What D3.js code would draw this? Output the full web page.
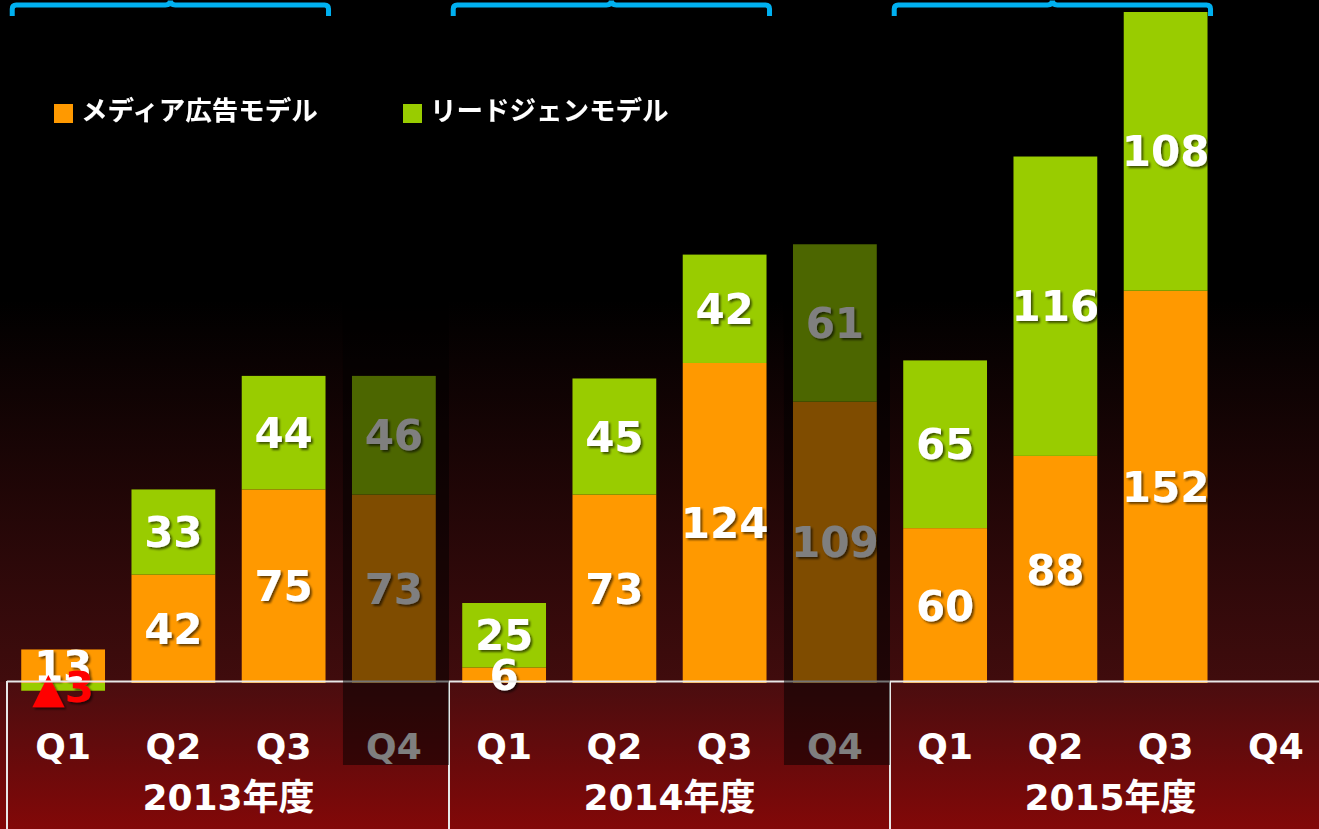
<!DOCTYPE html>
<html>
<head>
<meta charset="utf-8">
<script src="https://cdn.jsdelivr.net/npm/d3@7"></script>
<style>
  html, body { margin: 0; padding: 0; background: #000; }
  svg { display: block; }
</style>
</head>
<body>
<svg id="chart" width="1319" height="829"></svg>
<script>
// ---- data ----
const categories = ["2013Q1","2013Q2","2013Q3","2013Q4","2014Q1","2014Q2","2014Q3","2014Q4","2015Q1","2015Q2","2015Q3","2015Q4"];
const quarterLabels = ["Q1","Q2","Q3","Q4","Q1","Q2","Q3","Q4","Q1","Q2","Q3","Q4"];
const years = ["2013年度","2014年度","2015年度"];
const seriesNames = ["メディア広告モデル","リードジェンモデル"];
const mediaValues = [13, 42, 75, 73, 6, 73, 124, 109, 60, 88, 152, null];
const leadgenValues = [-3, 33, 44, 46, 25, 45, 42, 61, 65, 116, 108, null];
const dimmed = ["2013Q4","2014Q4"];
const seriesColors = ["#ff9900","#99cc00"];

// ---- setup ----
const W = 1319, H = 829;
const svg = d3.select("#chart");
const defs = svg.append("defs");

const x = d3.scaleBand().domain(categories).range([8, 1331]).paddingInner(0.24).paddingOuter(0.12);
const y = d3.scaleLinear().domain([0, 260]).range([683, 12]);

// background gradients
const g1 = defs.append("linearGradient").attr("id","bgTop").attr("x1",0).attr("y1",0).attr("x2",0).attr("y2",1);
g1.append("stop").attr("offset","0%").attr("stop-color","#000");
g1.append("stop").attr("offset","44%").attr("stop-color","#000");
g1.append("stop").attr("offset","100%").attr("stop-color","#400c0d");
const g2 = defs.append("linearGradient").attr("id","bgBottom").attr("x1",0).attr("y1",0).attr("x2",0).attr("y2",1);
g2.append("stop").attr("offset","0%").attr("stop-color","#4a0d0f");
g2.append("stop").attr("offset","100%").attr("stop-color","#820808");

const shadow = defs.append("filter").attr("id","shadow").attr("x","-20%").attr("y","-20%").attr("width","150%").attr("height","150%");
shadow.append("feDropShadow").attr("dx",2).attr("dy",2).attr("stdDeviation",1.2).attr("flood-color","#000").attr("flood-opacity",0.6);

svg.append("rect").attr("x",0).attr("y",0).attr("width",W).attr("height",682).attr("fill","url(#bgTop)");
svg.append("rect").attr("x",0).attr("y",682).attr("width",W).attr("height",H-682).attr("fill","url(#bgBottom)");

// ---- stacked bars ----
const rows = categories.map((c,i) => ({cat:c, media: mediaValues[i], leadgen: leadgenValues[i]})).filter(d => d.media !== null);
const stack = d3.stack().keys(["media","leadgen"]).offset(d3.stackOffsetDiverging);
const stacked = stack(rows);

const barG = svg.append("g");
stacked.forEach((layer, li) => {
  barG.selectAll(null).data(layer).join("rect")
    .attr("x", d => x(d.data.cat))
    .attr("width", x.bandwidth())
    .attr("y", d => y(Math.max(d[0], d[1])))
    .attr("height", d => Math.abs(y(d[0]) - y(d[1])))
    .attr("fill", seriesColors[li]);
});

// value labels
const labelG = svg.append("g").attr("font-family","'DejaVu Sans','Noto Sans CJK JP',sans-serif").attr("font-weight","bold").attr("font-size",42).attr("text-anchor","middle").attr("filter","url(#shadow)");
stacked.forEach((layer, li) => {
  labelG.selectAll(null).data(layer).join("text")
    .attr("x", d => x(d.data.cat) + x.bandwidth()/2)
    .attr("y", d => (y(d[0]) + y(d[1]))/2)
    .attr("dy","0.36em")
    .attr("fill", d => d.data[layer.key] < 0 ? "#ff0000" : "#fff")
    .text(d => d.data[layer.key] < 0 ? "▲" + Math.abs(d.data[layer.key]) : d.data[layer.key]);
});

// ---- table below ----
const tableG = svg.append("g");
tableG.append("line").attr("x1",7).attr("x2",W).attr("y1",681.5).attr("y2",681.5).attr("stroke","#e8e8e8").attr("stroke-width",2);
[0,4,8].forEach(i => {
  const xx = i === 0 ? 7 : x(categories[i]) - x.step()*x.paddingInner()/2;
  tableG.append("line").attr("x1",xx).attr("x2",xx).attr("y1",681).attr("y2",H).attr("stroke","#e8e8e8").attr("stroke-width",2);
});

const axis = d3.axisBottom(x).tickSize(0).tickPadding(0).tickFormat((d,i) => quarterLabels[i]);
const axG = svg.append("g").attr("transform","translate(0,733)").call(axis);
axG.select(".domain").remove();
axG.selectAll("text").attr("fill","#fff").attr("font-family","'DejaVu Sans',sans-serif").attr("font-weight","bold").attr("font-size",36).attr("dy","0.71em");

years.forEach((yr, k) => {
  const first = categories[k*4], last = categories[k*4+3];
  const cx = (x(first) + x(last) + x.bandwidth())/2;
  svg.append("text").attr("x", cx).attr("y", 810).attr("text-anchor","middle")
    .attr("fill","#fff").attr("font-family","'DejaVu Sans','Noto Sans CJK JP',sans-serif").attr("font-weight","bold").attr("font-size",36)
    .text(yr);
});

// ---- dim overlays for Q4 ----
dimmed.forEach(c => {
  svg.append("rect").attr("x", x(c) - 9).attr("y", 200).attr("width", 106).attr("height", 765-200)
    .attr("fill","#000").attr("fill-opacity",0.5);
});

// ---- braces ----
years.forEach((yr,k) => {
  const L = x(categories[k*4]) - 9, R = x(categories[k*4+2]) + x.bandwidth() + 3, M = (L+R)/2;
  const p = `M${L},16 L${L},9 Q${L},5 ${L+4},5 L${M-5},5 Q${M},5 ${M},0.5 Q${M},5 ${M+5},5 L${R-4},5 Q${R},5 ${R},9 L${R},16`;
  svg.append("path").attr("d",p).attr("fill","none").attr("stroke","#00b0f0").attr("stroke-width",5);
});

// ---- legend ----
const legendX = [54, 403];
seriesNames.forEach((n,i) => {
  svg.append("rect").attr("x",legendX[i]).attr("y",104).attr("width",19).attr("height",19).attr("fill",seriesColors[i]);
  svg.append("text").attr("x",legendX[i]+27).attr("y",120).attr("fill","#fff")
    .attr("font-family","'Noto Sans CJK JP',sans-serif").attr("font-weight","bold").attr("font-size",26.5)
    .attr("filter","url(#shadow)")
    .text(n);
});
</script>
</body>
</html>
